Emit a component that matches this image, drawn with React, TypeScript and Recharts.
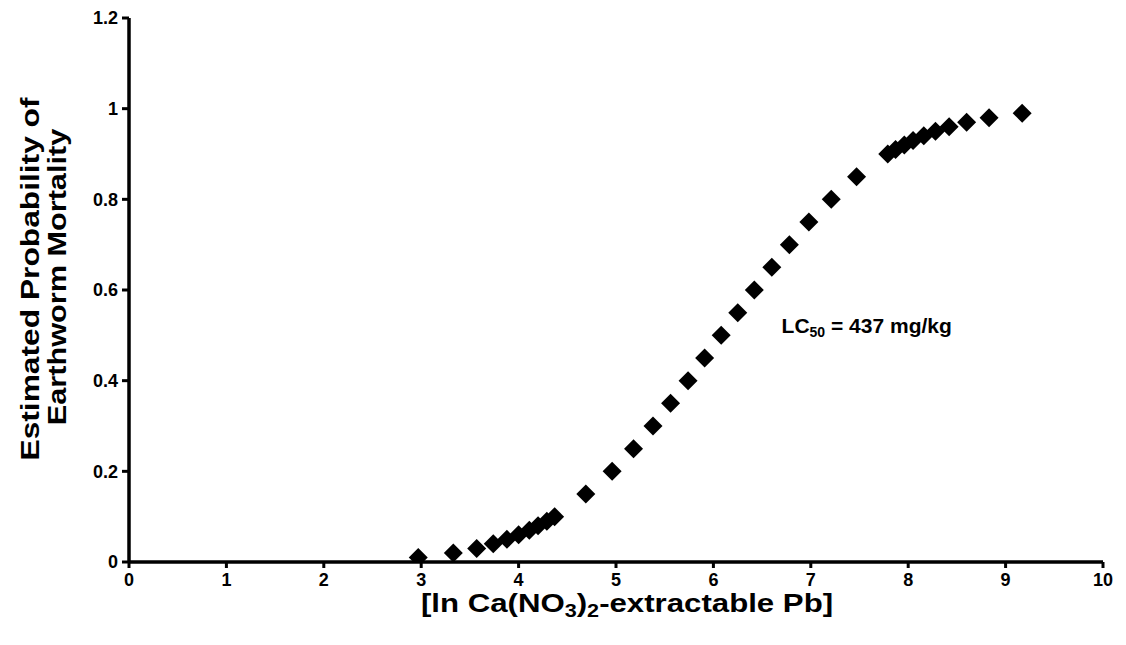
import React from 'react';
import { ScatterChart, Scatter, XAxis, YAxis, ReferenceDot, Label } from 'recharts';

const probabilities = [
  0.01, 0.02, 0.03, 0.04, 0.05, 0.06, 0.07, 0.08, 0.09, 0.1,
  0.15, 0.2, 0.25, 0.3, 0.35, 0.4, 0.45, 0.5, 0.55, 0.6, 0.65, 0.7, 0.75, 0.8, 0.85,
  0.9, 0.91, 0.92, 0.93, 0.94, 0.95, 0.96, 0.97, 0.98, 0.99,
];
const lnPb = [
  2.97, 3.33, 3.57, 3.74, 3.88, 4.0, 4.11, 4.2, 4.29, 4.37,
  4.69, 4.96, 5.18, 5.38, 5.56, 5.74, 5.91, 6.08, 6.25, 6.42, 6.6, 6.78, 6.98, 7.21, 7.47,
  7.79, 7.87, 7.96, 8.05, 8.16, 8.28, 8.42, 8.6, 8.83, 9.17,
];
const xTicks = [0, 1, 2, 3, 4, 5, 6, 7, 8, 9, 10];
const yTicks = [0, 0.2, 0.4, 0.6, 0.8, 1, 1.2];
const yTickLabels = ['0', '0.2', '0.4', '0.6', '0.8', '1', '1.2'];
const annotationPos = { x: 6.7, y: 0.505 };

const data = lnPb.map((x, i) => ({ x, y: probabilities[i] }));

const FONT = '"Liberation Sans", Arial, Helvetica, sans-serif';

const Diamond = (props: any) => {
  const { cx, cy } = props;
  const r = 9.5;
  return (
    <polygon
      points={`${cx},${cy - r} ${cx + r},${cy} ${cx},${cy + r} ${cx - r},${cy}`}
      fill="#000"
    />
  );
};

const YTitle = () => (
  <g fontFamily={FONT} fontWeight="bold" fontSize={26} fill="#000">
    <text x={0} y={0} textAnchor="middle" transform="translate(39,279) rotate(-90) scale(1.22,1)" fill="#000">
      Estimated Probability of
    </text>
    <text x={0} y={0} textAnchor="middle" transform="translate(66,277) rotate(-90) scale(1.18,1)" fill="#000">
      Earthworm Mortality
    </text>
  </g>
);

const XTitle = (props: any) => {
  const vb = props.viewBox || {};
  const cx = (vb.x || 0) + (vb.width || 0) / 2;
  return (
    <text
      x={0}
      y={0}
      transform={`translate(${cx + 11},612) scale(1.2,1)`}
      textAnchor="middle"
      fontFamily={FONT}
      fontWeight="bold"
      fontSize={26}
      fill="#000"
    >
      [ln Ca(NO<tspan fontSize={18} dy={5}>3</tspan>
      <tspan dy={-5} fontSize={26}>)</tspan>
      <tspan fontSize={18} dy={5}>2</tspan>
      <tspan dy={-5} fontSize={26}>-extractable Pb]</tspan>
    </text>
  );
};

const Annotation = (props: any) => {
  const { cx, cy } = props;
  return (
    <text x={cx} y={cy} fontFamily={FONT} fontWeight="bold" fontSize={21} fill="#000">
      LC<tspan fontSize={14} dy={4}>50</tspan>
      <tspan dy={-4} fontSize={21}> = 437 mg/kg</tspan>
    </text>
  );
};

export default function App() {
  return (
    <div style={{ position: 'absolute', left: 0, top: 0, background: '#fff' }}>
      <ScatterChart
        width={1126}
        height={645}
        margin={{ top: 18, right: 23, bottom: 0, left: 0 }}
      >
        <XAxis
          type="number"
          dataKey="x"
          domain={[0, 10]}
          ticks={xTicks}
          interval={0}
          allowDataOverflow
          height={83}
          axisLine={{ stroke: '#000', strokeWidth: 3.5 }}
          tickLine={{ stroke: '#000', strokeWidth: 3 }}
          tickSize={6}
          tickMargin={5}
          tick={{ fill: '#000', fontFamily: FONT, fontWeight: 'bold', fontSize: 18 }}
        >
          <Label content={<XTitle />} />
        </XAxis>
        <YAxis
          type="number"
          dataKey="y"
          domain={[0, 1.2]}
          ticks={yTicks}
          interval={0}
          allowDataOverflow
          width={129}
          axisLine={{ stroke: '#000', strokeWidth: 3.5 }}
          tickLine={{ stroke: '#000', strokeWidth: 3 }}
          tickSize={7}
          tickMargin={4}
          tickFormatter={(v: number) => yTickLabels[yTicks.indexOf(v)] ?? String(v)}
          tick={{ fill: '#000', fontFamily: FONT, fontWeight: 'bold', fontSize: 18 }}
        >
          <Label content={<YTitle />} />
        </YAxis>
        <Scatter data={data} fill="#000" shape={<Diamond />} isAnimationActive={false} />
        <ReferenceDot
          x={annotationPos.x}
          y={annotationPos.y}
          r={0}
          ifOverflow="visible"
          shape={<Annotation />}
        />
      </ScatterChart>
    </div>
  );
}
